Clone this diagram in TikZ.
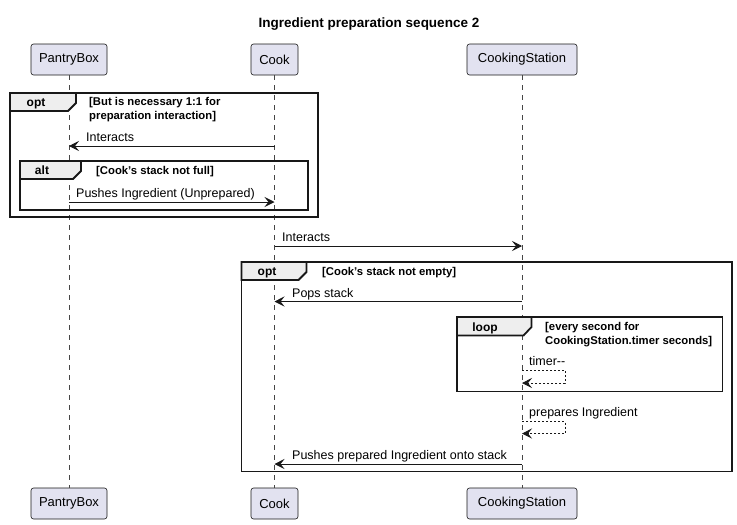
\documentclass[tikz,border=0pt]{standalone}
\usepackage{fontspec}
\setmainfont{Liberation Sans}
\usetikzlibrary{arrows.meta}
\definecolor{partfill}{RGB}{226,226,240}
\definecolor{tabfill}{RGB}{238,238,238}
\definecolor{lineclr}{RGB}{24,24,24}
\begin{document}
\begin{tikzpicture}[x=1pt,y=-1pt,
  part/.style={draw=lineclr, fill=partfill, rounded corners=2.5pt, line width=0.6pt,
    minimum height=31pt, inner sep=0pt, font=\fontsize{13}{15}\selectfont},
  lifeline/.style={draw=lineclr!80, dash pattern=on 5pt off 5pt, line width=0.5pt},
  msg/.style={draw=lineclr, line width=0.8pt, -{Stealth[length=10pt,width=10pt,inset=4pt]}},
  selfmsg/.style={msg, dash pattern=on 2pt off 2pt},
  msglbl/.style={font=\fontsize{12.5}{14}\selectfont, anchor=base west, inner sep=0pt},
  frame/.style={draw=lineclr, line width=1.8pt},
  tab/.style={draw=lineclr, line width=1.8pt, fill=tabfill},
  tablbl/.style={font=\bfseries\fontsize{12}{14}\selectfont, inner sep=0pt, anchor=base},
  guard/.style={font=\bfseries\fontsize{11.3}{14}\selectfont, inner sep=0pt, anchor=north west, align=left}
]
\useasboundingbox (0,0) rectangle (737,525);

% title
\node[font=\bfseries\fontsize{13.5}{16}\selectfont] (title) at (369,24) {Ingredient preparation sequence 2};

% participants
\node[part, minimum width=76pt] (pt) at (69,59.5) {PantryBox};
\node[part, minimum width=47pt] (ct) at (274.5,59.5) {Cook};
\node[part, minimum width=110pt] (st) at (522,59.5) {CookingStation};
\node[part, minimum width=76pt] (pb) at (69,503.5) {PantryBox};
\node[part, minimum width=47pt] (cb) at (274.5,503.5) {Cook};
\node[part, minimum width=110pt] (sb) at (522,503.5) {CookingStation};

% lifelines
\draw[lifeline] (pt.south) -- (pb.north);
\draw[lifeline] (ct.south) -- (cb.north);
\draw[lifeline] (st.south) -- (sb.north);

% opt frame 1
\draw[frame] (10,93) rectangle (318,217);
\draw[tab] (10,93) -- (76,93) -- (76,103) -- (68,111) -- (10,111) -- cycle;
\node[tablbl] (opt1) at (36,106.5) {opt};
\node[guard] (g1) at (89,97.5) {[But is necessary 1:1 for\\preparation interaction]};

% Interacts
\coordinate (a1s) at (274.5,146);
\coordinate (a1e) at (69,146);
\draw[msg] (a1s) -- (a1e);
\node[msglbl] (l1) at (86,141.5) {Interacts};

% alt frame
\draw[frame] (20,161) rectangle (308,210);
\draw[tab] (20,161) -- (81,161) -- (81,171) -- (73,179) -- (20,179) -- cycle;
\node[tablbl] (alt) at (42,174.5) {alt};
\node[guard] (g2) at (96,166) {[Cook's stack not full]};

% Pushes Ingredient (Unprepared)
\coordinate (a2s) at (69,202);
\coordinate (a2e) at (274.5,202);
\draw[msg] (a2s) -- (a2e);
\node[msglbl] (l2) at (76,197.5) {Pushes Ingredient (Unprepared)};

% Interacts 2
\coordinate (a3s) at (274.5,246);
\coordinate (a3e) at (522,246);
\draw[msg] (a3s) -- (a3e);
\node[msglbl] (l3) at (282,241.5) {Interacts};

% opt frame 2
\draw[frame] (241.5,262) rectangle (732,471.5);
\draw[tab] (241.5,262) -- (306.5,262) -- (306.5,272) -- (298.5,280) -- (241.5,280) -- cycle;
\node[tablbl] (opt2) at (267,275.5) {opt};
\node[guard] (g3) at (322,267) {[Cook's stack not empty]};

% Pops stack
\coordinate (a4s) at (522,301.5);
\coordinate (a4e) at (274.5,301.5);
\draw[msg] (a4s) -- (a4e);
\node[msglbl] (l4) at (292,297) {Pops stack};

% loop frame
\draw[frame] (457,317) rectangle (722.5,391.5);
\draw[tab] (457,317) -- (531.5,317) -- (531.5,327) -- (523.5,335.5) -- (457,335.5) -- cycle;
\node[tablbl] (loop) at (485,331.5) {loop};
\node[guard] (g4) at (545,322) {[every second for\\CookingStation.timer seconds]};

% timer-- self message
\coordinate (a5s) at (522,370);
\coordinate (a5e) at (522,383);
\draw[selfmsg] (a5s) -- (565,370) -- (565,383) -- (a5e);
\node[msglbl] (l5) at (529,365.5) {timer-{}-};

% prepares Ingredient
\coordinate (a6s) at (522,421.5);
\coordinate (a6e) at (522,433.5);
\draw[selfmsg] (a6s) -- (565,421.5) -- (565,433.5) -- (a6e);
\node[msglbl] (l6) at (529,416) {prepares Ingredient};

% Pushes prepared Ingredient onto stack
\coordinate (a7s) at (522,464);
\coordinate (a7e) at (274.5,464);
\draw[msg] (a7s) -- (a7e);
\node[msglbl] (l7) at (292,459.5) {Pushes prepared Ingredient onto stack};

\end{tikzpicture}
\end{document}
